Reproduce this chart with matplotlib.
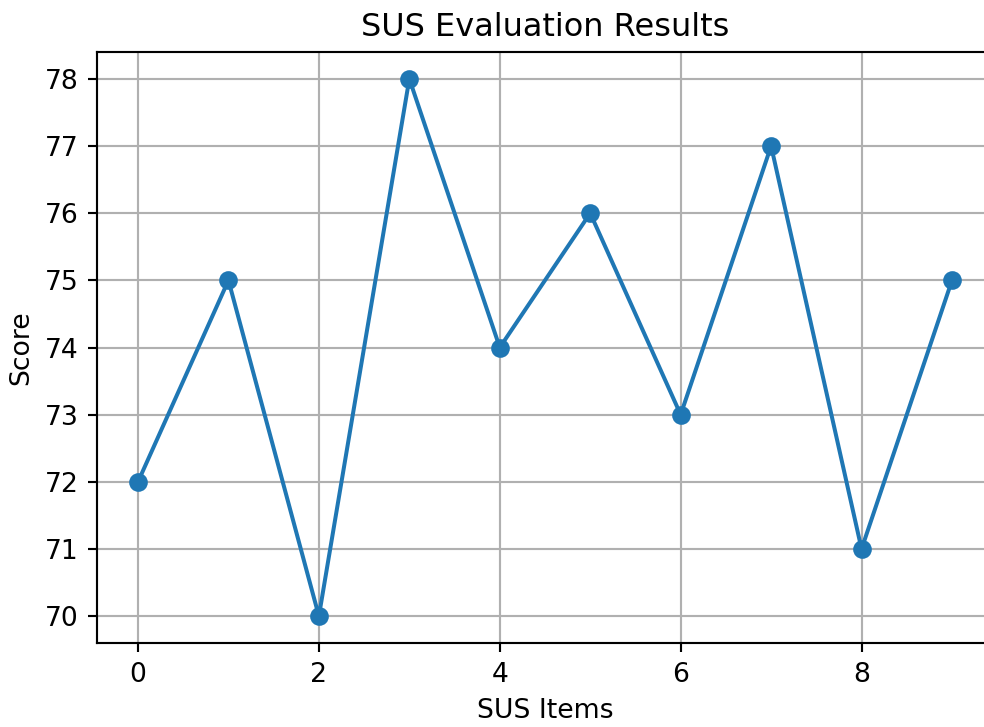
import matplotlib
matplotlib.use("Agg")
import matplotlib.pyplot as plt

items = list(range(10))
scores = [72, 75, 70, 78, 74, 76, 73, 77, 71, 75]

DPI = 192
fig = plt.figure(figsize=(984/DPI, 727/DPI), dpi=DPI)
ax = fig.add_axes([97.3/984, 1-643/727, (992.7-97.3)/984, (643-52)/727])
ax.plot(items, scores, marker='o', color='#1f77b4')
ax.set_title('SUS Evaluation Results', fontsize=12)
ax.set_xlabel('SUS Items')
ax.set_ylabel('Score')
ax.grid(True)
fig.savefig('out.png', dpi=DPI)
